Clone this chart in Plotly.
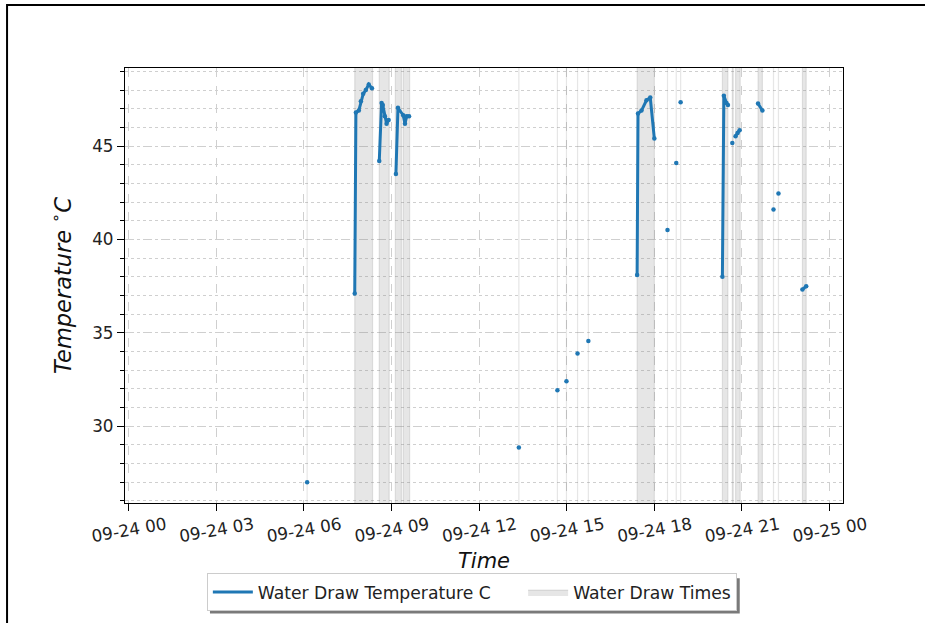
import pandas as pd
import plotly.graph_objects as go

BASE_DAY = "2023-09-24"

# Temperature readings: hours since midnight (segments separated by None) and values in deg C
temp_hours = [
    6.11, None,
    7.74, 7.78, 7.88, 7.95, 8.03, 8.12, 8.22, 8.33, None,
    8.58, 8.66, 8.70, 8.77, 8.83, 8.90, None,
    9.15, 9.22, 9.40, 9.46, 9.52, 9.60, None,
    13.36, None, 14.68, None, 14.99, None, 15.37, None, 15.74, None,
    17.41, 17.44, 17.56, 17.73, 17.86, 18.00, None,
    18.45, None, 18.75, None, 18.90, None,
    20.33, 20.38, 20.47, 20.52, None,
    20.67, None,
    20.78, 20.85, 20.92, None,
    21.55, 21.70, None,
    22.08, None, 22.25, None,
    23.07, 23.20,
]
temp_values = [
    27.0, None,
    37.1, 46.8, 46.9, 47.4, 47.8, 48.0, 48.3, 48.1, None,
    44.2, 47.3, 47.2, 46.6, 46.2, 46.4, None,
    43.5, 47.05, 46.65, 46.2, 46.6, 46.6, None,
    28.86, None, 31.93, None, 32.41, None, 33.9, None, 34.57, None,
    38.1, 46.75, 46.9, 47.45, 47.6, 45.4, None,
    40.5, None, 44.1, None, 47.35, None,
    38.0, 47.7, 47.3, 47.2, None,
    45.17, None,
    45.53, 45.7, 45.85, None,
    47.28, 46.9, None,
    41.6, None, 42.46, None,
    37.32, 37.5,
]

# Water draw periods (start hour, end hour)
draw_start = [6.11, 7.74, 8.58, 9.13, 9.40, 13.36, 14.68, 14.99, 15.37, 15.74,
              17.41, 18.45, 18.75, 18.90, 20.33, 20.67, 20.78, 21.55, 22.08, 22.25, 23.07]
draw_end = [6.11, 8.35, 8.92, 9.34, 9.62, 13.36, 14.68, 14.99, 15.37, 15.74,
            18.00, 18.45, 18.75, 18.90, 20.52, 20.70, 20.94, 21.70, 22.08, 22.25, 23.20]

y_tick_vals = [30, 35, 40, 45]
y_range = [25.89, 49.18]
x_range_hours = [-0.127, 24.46]

NAME_TEMP = "Water Draw Temperature C"
NAME_DRAW = "Water Draw Times"

day0 = pd.Timestamp(BASE_DAY)


def to_time(h):
    if h is None:
        return None
    return day0 + pd.to_timedelta(h, unit="h")


tx = [to_time(h) for h in temp_hours]

# Build span polygons
sx, sy = [], []
for s, e in zip(draw_start, draw_end):
    a, b = to_time(s), to_time(e)
    sx += [a, b, b, a, a, None]
    sy += [0, 0, 100, 100, 0, None]

BLUE = "#1f77b4"
FONT = "DejaVu Sans"
NBSP = "\u00a0"

fig = go.Figure()
fig.add_trace(go.Scatter(
    x=sx, y=sy, mode="lines", fill="toself",
    fillcolor="rgba(128,128,128,0.2)",
    line=dict(color="rgba(128,128,128,0.2)", width=1.2),
    name=NAME_DRAW, hoverinfo="skip", legendrank=2,
))
fig.add_trace(go.Scatter(
    x=tx, y=temp_values, mode="lines",
    line=dict(color=BLUE, width=3),
    name=NAME_TEMP + NBSP * 5, connectgaps=False, legendrank=1,
))
fig.add_trace(go.Scatter(
    x=tx, y=temp_values, mode="markers",
    marker=dict(color=BLUE, size=4.5),
    showlegend=False,
))

grid_color = "#cfcfcf"
fig.update_xaxes(
    type="date",
    range=[to_time(x_range_hours[0]), to_time(x_range_hours[1])],
    tick0=day0, dtick=3 * 3600 * 1000, tickformat="%m-%d %H",
    tickangle=-10, ticklabelshift=37, ticklabelstandoff=-2,
    showgrid=True, gridcolor=grid_color, griddash="dash", gridwidth=1,
    showline=True, mirror=True, linecolor="black", linewidth=1.2,
    ticks="outside", ticklen=7, tickcolor="black",
    tickfont=dict(family=FONT, size=16.8, color="#222"),
    title=dict(text="<i>Time</i>", font=dict(family=FONT, size=21, color="#111"), standoff=8),
    zeroline=False,
)
fig.update_yaxes(
    range=y_range, tickvals=y_tick_vals,
    showgrid=True, gridcolor=grid_color, griddash="dash", gridwidth=1,
    minor=dict(dtick=1, tick0=0, showgrid=True, gridcolor=grid_color, griddash="dot",
               ticks="outside", ticklen=4, tickcolor="black"),
    showline=True, mirror=True, linecolor="black", linewidth=1.2,
    ticks="outside", ticklen=7, tickcolor="black",
    tickfont=dict(family=FONT, size=16.8, color="#222"),
    title=dict(text="<i>Temperature </i><sup>∘</sup><i>C</i>",
               font=dict(family=FONT, size=22.5, color="#111"), standoff=14),
    zeroline=False,
)

W_PLOT = 925 - 125 - 81.7
H_PLOT = 502.7 - 68


def px_x(p):
    return (p - 125) / W_PLOT


def px_y(p):
    return (502.7 - p) / H_PLOT


# figure frame (top and left edges visible)
fig.add_shape(type="rect", xref="paper", yref="paper",
              x0=px_x(7), x1=px_x(940), y0=px_y(640), y1=px_y(5),
              line=dict(color="black", width=2), fillcolor="rgba(0,0,0,0)", layer="above")
# legend shadow
fig.add_shape(type="rect", xref="paper", yref="paper",
              x0=px_x(210), x1=px_x(740), y0=px_y(613), y1=px_y(578),
              line=dict(width=0), fillcolor="#7a7a7a", layer="above")

fig.update_layout(
    width=925, height=623,
    margin=dict(l=125, r=81.7, t=68, b=120.3),
    paper_bgcolor="white", plot_bgcolor="white",
    font=dict(family=FONT),
    showlegend=True,
    legend=dict(
        orientation="h", x=px_x(472), xanchor="center", y=px_y(573), yanchor="top",
        bgcolor="white", bordercolor="#cccccc", borderwidth=1,
        font=dict(family=FONT, size=17.2, color="#222"),
        traceorder="normal", itemwidth=40,
    ),
)

fig.write_html("out.html")
